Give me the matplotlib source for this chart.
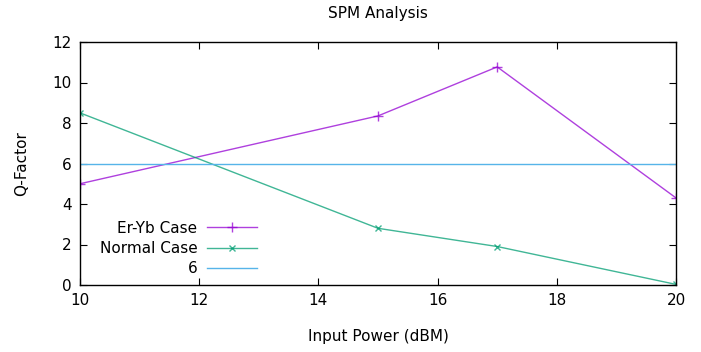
import matplotlib.pyplot as plt

power = [10, 15, 17, 20]
er_yb = [5.0, 8.35, 10.77, 4.3]
normal = [8.5, 2.8, 1.9, 0.03]
ref_level = 6

fig = plt.figure(figsize=(7.01, 3.52), dpi=100)
ax = fig.add_axes([80/701, 67/352, 596/701, 243/352])

ax.plot(power, er_yb, color='#9400d3', lw=1, marker='+', ms=7, mew=1,
        label='Er-Yb Case', alpha=0.75)
ax.plot(power, normal, color='#009e73', lw=1, marker='x', ms=5, mew=1,
        label='Normal Case', alpha=0.75)
ax.axhline(ref_level, color='#56b4e9', lw=1, label='6')

ax.set_xlim(10, 20)
ax.set_ylim(0, 12)
ax.set_xticks(range(10, 21, 2))
ax.set_yticks(range(0, 13, 2))
ax.tick_params(direction='in', top=True, right=True, labelsize=11, length=5, pad=6)
for s in ax.spines.values():
    s.set_linewidth(1)

ax.set_title('SPM Analysis', fontsize=11, pad=17)
ax.set_xlabel('Input Power (dBM)', fontsize=11, labelpad=15)
ax.set_ylabel('Q-Factor', fontsize=11, labelpad=17)

ax.legend(loc='upper right', bbox_to_anchor=(0.297, 0.265), frameon=False,
          markerfirst=False, fontsize=11, handlelength=3.3, handletextpad=0.6,
          borderpad=0, borderaxespad=0, labelspacing=0.35)

fig.savefig('out.png', dpi=100)
